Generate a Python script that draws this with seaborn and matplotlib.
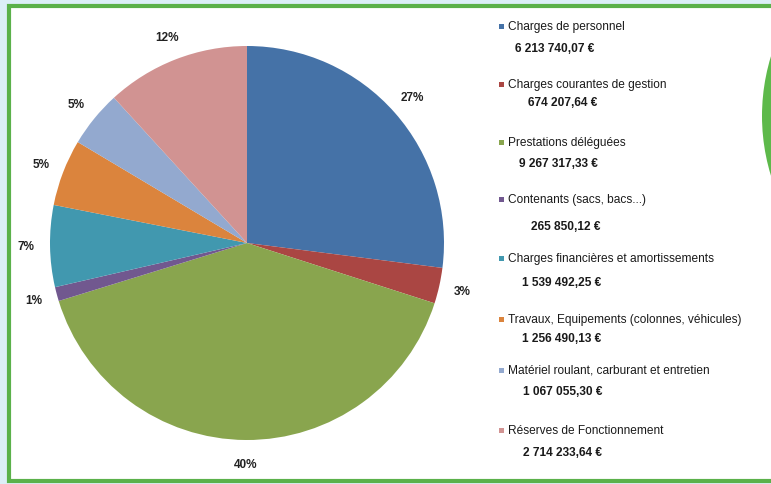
import matplotlib
matplotlib.use("Agg")
import matplotlib.pyplot as plt
import seaborn as sns
from matplotlib.patches import Rectangle, Circle

# ---- data ----
categories = [
    "Charges de personnel",
    "Charges courantes de gestion",
    "Prestations déléguées",
    "Contenants (sacs, bacs...)",
    "Charges financières et amortissements",
    "Travaux, Equipements (colonnes, véhicules)",
    "Matériel roulant, carburant et entretien",
    "Réserves de Fonctionnement",
]
values = [6213740.07, 674207.64, 9267317.33, 265850.12,
          1539492.25, 1256490.13, 1067055.30, 2714233.64]
value_labels = ["6 213 740,07 €", "674 207,64 €", "9 267 317,33 €", "265 850,12 €",
                "1 539 492,25 €", "1 256 490,13 €", "1 067 055,30 €", "2 714 233,64 €"]
colors = ["#4572A7", "#AA4643", "#89A54E", "#71588F",
          "#4198AF", "#DB843D", "#93A9CF", "#D19392"]

# ---- style ----
sns.set_theme(style="white")
plt.rcParams['font.family'] = ['Liberation Sans', 'DejaVu Sans']
palette = sns.color_palette(colors)

W, H = 771, 485
fig = plt.figure(figsize=(W / 100, H / 100), dpi=100)
fig.patch.set_facecolor('#DCEFF7')
ax = fig.add_axes([0, 0, 1, 1])

def Y(y):
    return H - y

# frame
ax.add_patch(Rectangle((9, Y(482)), 780, 475, facecolor='white',
                       edgecolor='#5BB14A', linewidth=3, zorder=0))
# decorative green circle at right edge
ax.add_patch(Circle((966, Y(117)), 204, facecolor='#5DB94A', edgecolor='none', zorder=1))

# pie
ax.pie(values, colors=palette, startangle=90, counterclock=False,
       center=(247, Y(244)), radius=197, autopct='%1.0f%%', pctdistance=1.12,
       wedgeprops=dict(linewidth=0), frame=True,
       textprops=dict(fontsize=8.5, fontweight='bold', color='#222222'))

# legend (manual layout)
name_y = [27, 85, 143, 200, 259, 320, 371, 431]
val_y = [49, 103, 164, 227, 283, 339, 392, 453]
val_x = [515, 528, 519, 531, 522, 522, 523, 523]
for i, cat in enumerate(categories):
    ax.add_patch(Rectangle((499, Y(name_y[i]) - 2.5), 5, 5, facecolor=palette[i],
                           edgecolor='none', zorder=3))
    ax.text(508, Y(name_y[i]), cat, va='center', ha='left', fontsize=8.6,
            color='#1a1a1a', zorder=3)
    ax.text(val_x[i], Y(val_y[i]), value_labels[i], va='center', ha='left',
            fontsize=8.6, fontweight='bold', color='#1a1a1a', zorder=3)

ax.set_xlim(0, W)
ax.set_ylim(0, H)
ax.set_aspect('equal')
ax.axis('off')

fig.savefig('out.png', dpi=100, facecolor=fig.get_facecolor())
